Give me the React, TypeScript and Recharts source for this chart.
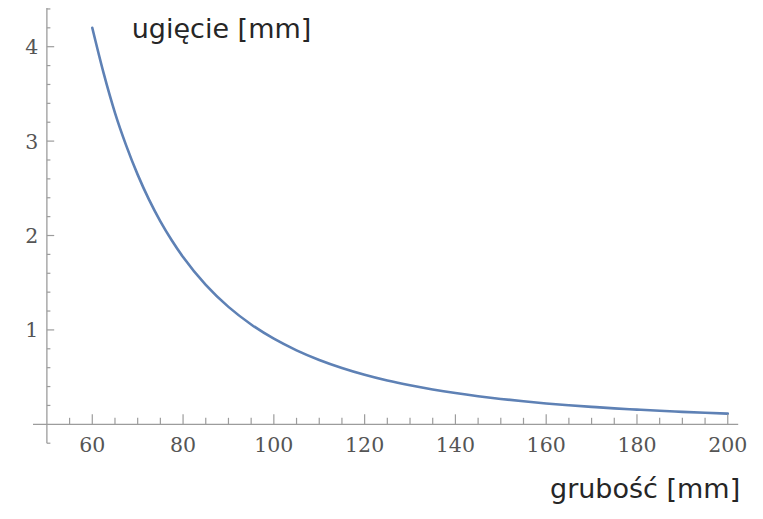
import React from 'react';
import { LineChart, Line, XAxis, YAxis, ReferenceLine, ReferenceDot } from 'recharts';

// thickness [mm] and deflection [mm]
const thickness = [60, 62.5, 65, 67.5, 70, 72.5, 75, 77.5, 80, 85, 90, 95, 100, 105, 110, 115, 120, 125, 130, 135, 140, 145, 150, 155, 160, 165, 170, 175, 180, 185, 190, 195, 200];
const deflection = [4.2, 3.72, 3.3, 2.95, 2.645, 2.38, 2.15, 1.95, 1.772, 1.477, 1.244, 1.058, 0.907, 0.784, 0.682, 0.597, 0.525, 0.464, 0.413, 0.369, 0.331, 0.298, 0.269, 0.244, 0.221, 0.202, 0.185, 0.169, 0.156, 0.143, 0.132, 0.122, 0.113];

const xMajorTicks = [60, 80, 100, 120, 140, 160, 180, 200];
const xMinorTicks = [55, 65, 70, 75, 85, 90, 95, 105, 110, 115, 125, 130, 135, 145, 150, 155, 165, 170, 175, 185, 190, 195];
const yMajorTicks = [1, 2, 3, 4];
const yMinorTicks = [-0.2, 0.2, 0.4, 0.6, 0.8, 1.2, 1.4, 1.6, 1.8, 2.2, 2.4, 2.6, 2.8, 3.2, 3.4, 3.6, 3.8, 4.2, 4.4];

const xTitle = 'grubość [mm]';
const yTitle = 'ugięcie [mm]';

const data = thickness.map((t, i) => ({ t, d: deflection[i] }));

const AXIS = '#9c9c9c';
const LABEL = '#555555';
const CURVE = '#5E81B5';
const tickFont = '"DejaVu Serif", serif';

const xTick = (v: number, major: boolean) => (props: any) => (
  <g>
    <line x1={props.cx} x2={props.cx} y1={props.cy} y2={props.cy - (major ? 10 : 6.5)} stroke={AXIS} strokeWidth={1.2} />
    {major && (
      <text x={props.cx} y={props.cy + 27.4} textAnchor="middle" fontFamily={tickFont} fontSize={20.5} fill={LABEL}>
        {v}
      </text>
    )}
  </g>
);

const yTick = (v: number, major: boolean) => (props: any) => (
  <g>
    <line x1={props.cx} x2={props.cx + (major ? 7.3 : 3.5)} y1={props.cy} y2={props.cy} stroke={AXIS} strokeWidth={1.2} />
    {major && (
      <text x={props.cx - 8.7} y={props.cy + 7.5} textAnchor="end" fontFamily={tickFont} fontSize={20.5} fill={LABEL}>
        {v}
      </text>
    )}
  </g>
);

export default function App() {
  return (
    <div style={{ position: 'absolute', left: 0, top: 0, width: 763, height: 519, background: '#fff' }}>
      <LineChart
        width={763}
        height={519}
        data={data}
        margin={{ top: 8, right: 24.8, bottom: 75.8, left: 33 }}
      >
        <XAxis dataKey="t" type="number" domain={[46.94, 202.3]} allowDataOverflow hide />
        <YAxis type="number" domain={[-0.2, 4.41]} allowDataOverflow hide />
        <ReferenceLine y={0} stroke={AXIS} strokeWidth={1.3} ifOverflow="visible" />
        <ReferenceLine x={50} stroke={AXIS} strokeWidth={1.3} ifOverflow="visible" />
        {xMajorTicks.map((v) => (
          <ReferenceDot key={'xM' + v} x={v} y={0} r={1} ifOverflow="visible" shape={xTick(v, true)} />
        ))}
        {xMinorTicks.map((v) => (
          <ReferenceDot key={'xm' + v} x={v} y={0} r={1} ifOverflow="visible" shape={xTick(v, false)} />
        ))}
        {yMajorTicks.map((v) => (
          <ReferenceDot key={'yM' + v} x={50} y={v} r={1} ifOverflow="visible" shape={yTick(v, true)} />
        ))}
        {yMinorTicks.map((v) => (
          <ReferenceDot key={'ym' + v} x={50} y={v} r={1} ifOverflow="visible" shape={yTick(v, false)} />
        ))}
        <Line
          type="monotone"
          dataKey="d"
          stroke={CURVE}
          strokeWidth={2.6}
          strokeLinecap="round"
          dot={false}
          activeDot={false}
          isAnimationActive={false}
        />
      </LineChart>
      <svg width={763} height={519} style={{ position: 'absolute', left: 0, top: 0, pointerEvents: 'none' }}>
        <text x={131.7} y={38.3} fontFamily='"DejaVu Sans", sans-serif' fontSize={27} fill="#262626">
          {yTitle}
        </text>
        <text x={550} y={497.7} fontFamily='"DejaVu Sans", sans-serif' fontSize={27} fill="#262626">
          {xTitle}
        </text>
      </svg>
    </div>
  );
}
